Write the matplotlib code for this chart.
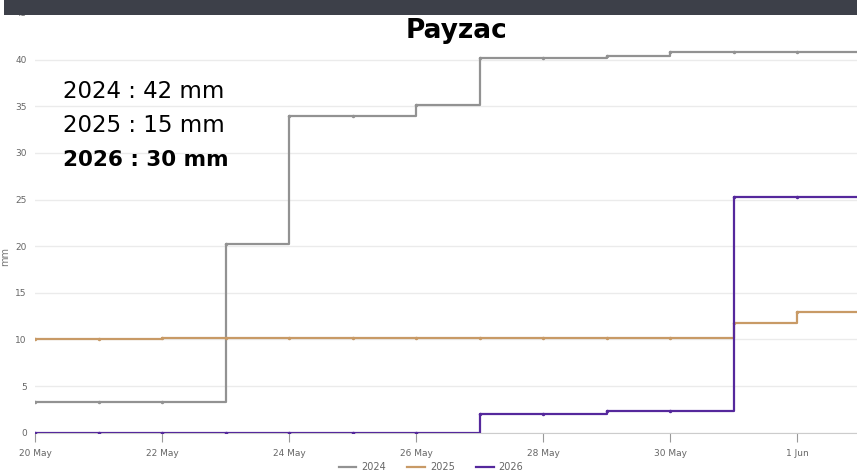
import matplotlib
matplotlib.use("Agg")
import matplotlib.pyplot as plt
import matplotlib.dates as mdates
from matplotlib.patches import Rectangle
import pandas as pd

# daily cumulative rainfall (mm), value held from each midnight
days = pd.date_range("2026-05-20", "2026-06-02", freq="D")
rain_2024 = [3.3, 3.3, 3.3, 20.2, 34.0, 34.0, 35.1, 40.2, 40.2, 40.4, 40.8, 40.8, 40.8, 40.8]
rain_2025 = [10.0, 10.1, 10.2, 10.2, 10.2, 10.2, 10.2, 10.2, 10.2, 10.2, 10.2, 11.8, 12.9, 12.9]
rain_2026 = [0.0, 0.0, 0.0, 0.0, 0.0, 0.0, 0.0, 2.0, 2.0, 2.3, 2.3, 25.3, 25.3, 25.3]
series = [("2024", rain_2024, "#929292"), ("2025", rain_2025, "#c89a66"), ("2026", rain_2026, "#55289c")]
totals = ["2024 : 42 mm", "2025 : 15 mm", "2026 : 30 mm"]

W, H = 857, 473
fig = plt.figure(figsize=(W / 100, H / 100), dpi=100)
ax = fig.add_axes([35 / W, (H - 432.7) / H, 1 - 35 / W, (432.7 - 13) / H])

for name, vals, col in series:
    ax.step(days, vals, where="post", color=col, lw=1.6, label=name, zorder=3)
    ax.plot(days, vals, ls="none", marker="o", ms=1.5, color=col, zorder=3)

ax.set_xlim(days[0], days[0] + pd.Timedelta(days=(W - 35) / 63.5))
ax.set_ylim(0, 45)
ax.set_yticks(range(0, 46, 5))
ax.set_xticks(days[::2])
ax.xaxis.set_major_formatter(mdates.DateFormatter("%-d %b"))
ax.grid(axis="y", color="#ebebeb", lw=1)
ax.set_axisbelow(True)
for s in ("top", "right", "left"):
    ax.spines[s].set_visible(False)
ax.spines["bottom"].set_color("#cccccc")
ax.tick_params(axis="y", length=0, pad=6, labelsize=6.5, labelcolor="#666666")
ax.tick_params(axis="x", length=6.5, color="#999999", pad=5, labelsize=6.5, labelcolor="#666666")
ax.set_ylabel("mm", fontsize=7, color="#777777")
ax.yaxis.set_label_coords(-0.030, 0.42)

fig.legend(loc="center", bbox_to_anchor=(0.503, 1 - 467 / H), ncol=3, frameon=False,
           fontsize=7, handlelength=1.8, handletextpad=0.5, columnspacing=2.2,
           labelcolor="#666666", borderpad=0)

# header strip, title and totals
fig.patches.append(Rectangle((4 / W, 1 - 15 / H), 1, 15 / H, transform=fig.transFigure,
                             facecolor="#3d4049", edgecolor="none", zorder=10))
fig.text(457 / W, 1 - 31 / H, "Payzac", ha="center", va="center", fontsize=19,
         fontweight="bold", family="DejaVu Sans", zorder=11)
for i, t in enumerate(totals):
    fig.text(63 / W, 1 - (92 + 34 * i) / H, t, ha="left", va="center",
             fontsize=15.5 if i == 2 else 16.5, family="DejaVu Sans",
             fontweight="bold" if i == 2 else "normal", zorder=11)

fig.savefig("out.png", dpi=100)
